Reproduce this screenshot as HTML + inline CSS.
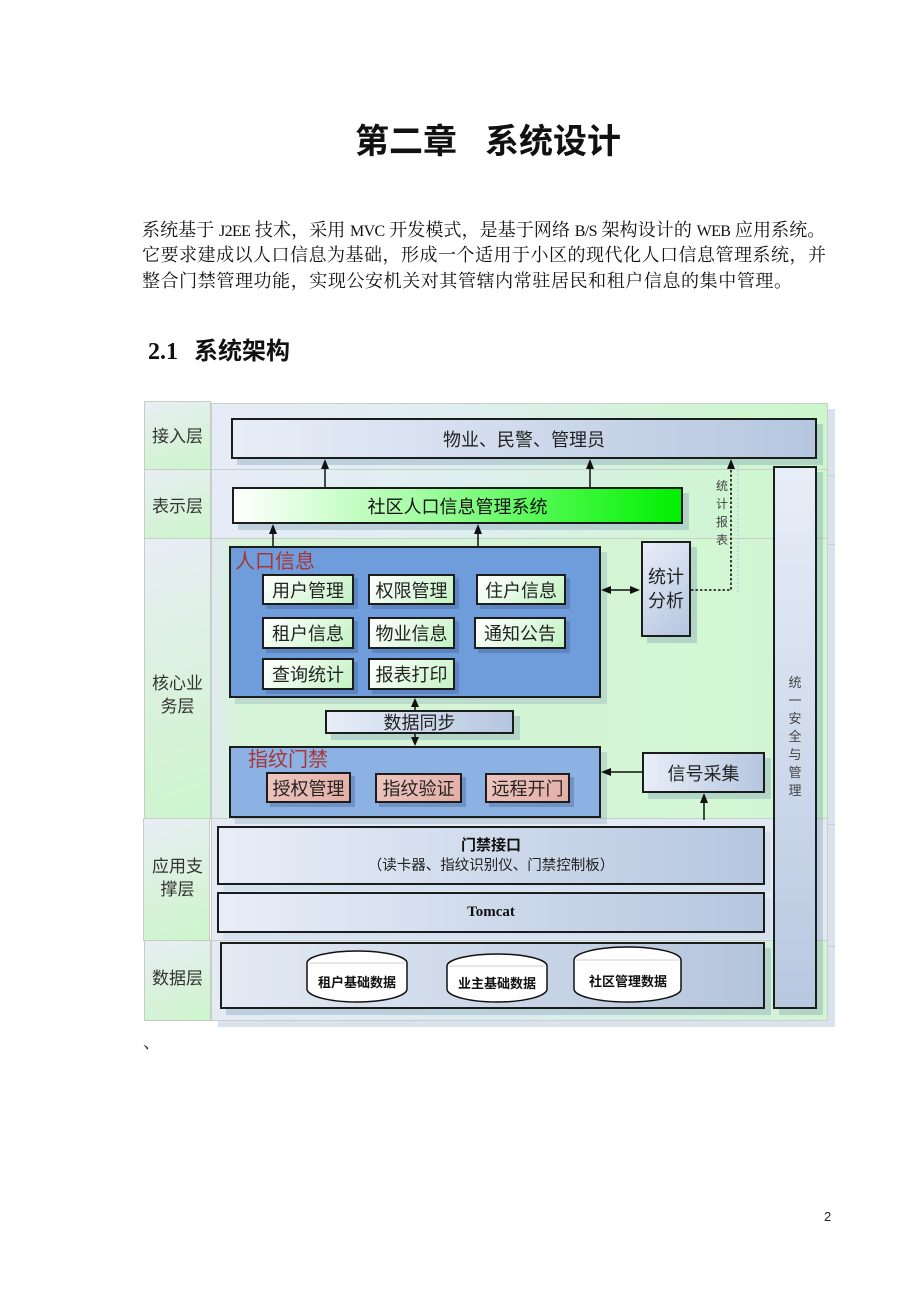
<!DOCTYPE html>
<html><head><meta charset="utf-8">
<style>
html,body{margin:0;padding:0;background:#fff;}
body{width:920px;height:1302px;position:relative;overflow:hidden;font-family:"Liberation Sans","Noto Sans CJK SC",sans-serif;color:#222;}
.a{position:absolute;}
.t{position:absolute;white-space:nowrap;}
.title{font-family:"Liberation Sans","Noto Sans CJK SC",sans-serif;font-weight:700;font-size:34px;line-height:34px;color:#111;}
.para{position:absolute;left:142px;width:684px;font-family:"Liberation Serif","Noto Serif CJK SC",serif;font-size:18px;line-height:24px;height:24px;color:#111;text-align:justify;text-align-last:justify;white-space:nowrap;}
.cell{position:absolute;left:144px;width:67px;box-sizing:border-box;border:1px solid #c5cdc5;background:linear-gradient(160deg,#e8eef6 0%,#dbf1de 50%,#ccf6cc 100%);}
.lab{position:absolute;left:144px;width:67px;text-align:center;font-size:17px;line-height:23px;color:#333;font-family:"Liberation Sans","Noto Sans CJK SC",sans-serif;}
.band{position:absolute;left:211px;width:617px;box-sizing:border-box;border:1px solid #c8cfc8;box-shadow:7px 6px 0 rgba(150,172,205,0.35);}
.box{position:absolute;box-sizing:border-box;border:2px solid #1c1c1c;box-shadow:6px 6px 0 rgba(110,145,170,0.32);display:flex;align-items:center;justify-content:center;font-size:18px;color:#222;font-family:"Liberation Sans","Noto Sans CJK SC",sans-serif;}
.bl{background:linear-gradient(to right,#e8eef8,#b5c6df);}
.gr{background:linear-gradient(135deg,#ffffff 0%,#e6fae6 45%,#c2f2c2 100%);box-shadow:4px 4px 0 rgba(60,90,140,0.35);}
.pk{background:linear-gradient(135deg,#eec6bf,#e2aea6);box-shadow:4px 4px 0 rgba(60,90,140,0.35);}
.lat{font-size:16px;letter-spacing:-0.6px;}
</style></head>
<body>

<!-- Title -->
<div class="t title" style="left:355px;top:125px;">第二章</div>
<div class="t title" style="left:485px;top:125px;">系统设计</div>

<!-- Paragraph -->
<div class="para" style="top:218px;width:683px;letter-spacing:-0.25px;">系统基于 <span class="lat">J2EE</span> 技术，采用 <span class="lat">MVC</span> 开发模式，是基于网络 <span class="lat">B/S</span> 架构设计的 <span class="lat">WEB</span> 应用系统。</div>
<div class="para" style="top:243px;">它要求建成以人口信息为基础，形成一个适用于小区的现代化人口信息管理系统，并</div>
<div class="para" style="top:269px;width:650px;">整合门禁管理功能，实现公安机关对其管辖内常驻居民和租户信息的集中管理。</div>

<!-- Section heading -->
<div class="t" style="left:148px;top:339px;font-family:'Liberation Serif',serif;font-weight:700;font-size:24px;line-height:26px;color:#111;">2.1</div>
<div class="t" style="left:194px;top:339px;font-family:'Liberation Sans','Noto Sans CJK SC',sans-serif;font-weight:700;font-size:24px;line-height:26px;color:#111;">系统架构</div>

<!-- Bands -->
<div class="band" style="top:403px;height:67px;background:linear-gradient(to right,#e6ecf7 0%,#dfeef0 40%,#d2f4d6 75%,#ccf7cc 100%);"></div>
<div class="band" style="top:469px;height:70px;background:linear-gradient(to right,#e6ecf7 0%,#dfeef0 40%,#d2f4d6 75%,#ccf7cc 100%);"></div>
<div class="band" style="top:538px;height:281px;background:linear-gradient(to right,#e0eaf0 0%,#d6f4d8 4%,#d2f6d2 100%);"></div>
<div class="band" style="top:818px;height:123px;background:linear-gradient(to right,#e4ebf5,#e2e9f3);"></div>
<div class="band" style="top:940px;height:81px;background:linear-gradient(to right,#e4ebf5 0%,#dcecef 50%,#d2f4d4 100%);"></div>

<!-- Left label column -->
<div class="cell" style="top:401px;height:69px;"></div>
<div class="cell" style="top:469px;height:70px;"></div>
<div class="cell" style="top:538px;height:281px;"></div>
<div class="cell" style="top:818px;height:123px;left:143px;"></div>
<div class="cell" style="top:940px;height:81px;"></div>
<div class="lab" style="top:425px;">接入层</div>
<div class="lab" style="top:495px;">表示层</div>
<div class="lab" style="top:672px;">核心业<br>务层</div>
<div class="lab" style="top:855px;">应用支<br>撑层</div>
<div class="lab" style="top:967px;">数据层</div>

<!-- Right vertical box -->
<div class="box" style="left:773px;top:466px;width:44px;height:543px;background:linear-gradient(to bottom,#e8eef8,#b8c8e0);"></div>
<div class="t" style="left:786px;top:674px;width:18px;text-align:center;font-size:13px;line-height:18px;color:#444;white-space:normal;">统<br>一<br>安<br>全<br>与<br>管<br>理</div>

<!-- Access layer -->
<div class="box bl" style="left:231px;top:418px;width:586px;height:41px;font-size:18px;">物业、民警、管理员</div>

<!-- Presentation -->
<div class="box" style="left:232px;top:487px;width:451px;height:37px;background:linear-gradient(to right,#ffffff 0%,#a8fca8 40%,#40f840 75%,#00f000 100%);font-size:18px;color:#111;">社区人口信息管理系统</div>
<div class="t" style="left:714px;top:477px;width:16px;text-align:center;font-size:12px;line-height:18px;color:#444;white-space:normal;">统<br>计<br>报<br>表</div>

<!-- 人口信息 -->
<div class="box" style="left:229px;top:546px;width:372px;height:152px;background:#6f9ddb;box-shadow:6px 6px 0 rgba(110,145,170,0.25);"></div>
<div class="t" style="left:235px;top:550px;font-size:20px;line-height:24px;color:#a83535;">人口信息</div>
<div class="box gr" style="left:262px;top:574px;width:92px;height:31px;">用户管理</div>
<div class="box gr" style="left:368px;top:574px;width:87px;height:31px;">权限管理</div>
<div class="box gr" style="left:476px;top:574px;width:90px;height:31px;">住户信息</div>
<div class="box gr" style="left:262px;top:617px;width:92px;height:32px;">租户信息</div>
<div class="box gr" style="left:368px;top:617px;width:87px;height:32px;">物业信息</div>
<div class="box gr" style="left:474px;top:617px;width:92px;height:32px;">通知公告</div>
<div class="box gr" style="left:262px;top:658px;width:92px;height:32px;">查询统计</div>
<div class="box gr" style="left:368px;top:658px;width:87px;height:32px;">报表打印</div>

<!-- 统计分析 -->
<div class="box" style="left:641px;top:541px;width:50px;height:96px;background:linear-gradient(135deg,#e8eef8,#b4c5df);line-height:24px;text-align:center;">统计<br>分析</div>

<!-- 数据同步 -->
<div class="box bl" style="left:325px;top:710px;width:189px;height:24px;">数据同步</div>

<!-- 指纹门禁 -->
<div class="box" style="left:229px;top:746px;width:372px;height:72px;background:#8cb1e3;box-shadow:6px 6px 0 rgba(110,145,170,0.25);"></div>
<div class="t" style="left:248px;top:748px;font-size:20px;line-height:24px;color:#a83535;">指纹门禁</div>
<div class="box pk" style="left:266px;top:772px;width:85px;height:31px;">授权管理</div>
<div class="box pk" style="left:375px;top:773px;width:87px;height:30px;">指纹验证</div>
<div class="box pk" style="left:485px;top:773px;width:85px;height:30px;">远程开门</div>

<!-- 信号采集 -->
<div class="box bl" style="left:642px;top:752px;width:123px;height:41px;">信号采集</div>

<!-- App support -->
<div class="box bl" style="left:217px;top:826px;width:548px;height:59px;flex-direction:column;box-shadow:6px 6px 0 rgba(200,215,235,0.5);">
  <div style="font-weight:700;font-size:15px;line-height:20px;color:#111;">门禁接口</div>
  <div style="font-size:14.5px;line-height:20px;color:#222;">（读卡器、指纹识别仪、门禁控制板）</div>
</div>
<div class="box bl" style="left:217px;top:892px;width:548px;height:41px;font-family:'Liberation Serif',serif;font-weight:700;font-size:15px;color:#111;box-shadow:6px 6px 0 rgba(200,215,235,0.5);">Tomcat</div>

<!-- Data -->
<div class="box" style="left:220px;top:942px;width:545px;height:67px;background:linear-gradient(to right,#e4eaf4,#b4c4dc);"></div>

<!-- SVG overlay: arrows, cylinders -->
<svg class="a" style="left:0;top:0;" width="920" height="1302" viewBox="0 0 920 1302">
  <g stroke="#111" stroke-width="1.5" fill="none">
    <line x1="325" y1="487" x2="325" y2="466"/>
    <line x1="590" y1="487" x2="590" y2="466"/>
    <line x1="273" y1="546" x2="273" y2="531"/>
    <line x1="478" y1="546" x2="478" y2="531"/>
    <line x1="609" y1="590" x2="632" y2="590"/>
    <line x1="415" y1="710" x2="415" y2="705"/>
    <line x1="415" y1="734" x2="415" y2="738"/>
    <line x1="642" y1="772" x2="609" y2="772"/>
    <line x1="704" y1="820" x2="704" y2="801"/>
  </g>
  <polyline points="738,592 738,466" stroke="#c8d4e4" stroke-width="1.5" stroke-dasharray="2,2" fill="none"/>
  <polyline points="691,590 731,590 731,467" stroke="#111" stroke-width="1.6" stroke-dasharray="2.5,2" fill="none"/>
  <g fill="#111">
    <polygon points="325,459 321,469 329,469"/>
    <polygon points="590,459 586,469 594,469"/>
    <polygon points="273,524 269,534 277,534"/>
    <polygon points="478,524 474,534 482,534"/>
    <polygon points="601,590 611,586 611,594"/>
    <polygon points="640,590 630,586 630,594"/>
    <polygon points="731,459 727,469 735,469"/>
    <polygon points="415,698 411,707 419,707"/>
    <polygon points="415,746 411,737 419,737"/>
    <polygon points="601,772 611,768 611,776"/>
    <polygon points="704,793 700,803 708,803"/>
  </g>
  <!-- cylinders -->
  <g stroke="#111" stroke-width="1.5" fill="#fff">
    <path d="M307,963 A50,12 0 0 1 407,963 L407,989 A50,13 0 0 1 307,989 Z"/>
    <path d="M447,966 A50,12 0 0 1 547,966 L547,989 A50,13 0 0 1 447,989 Z"/>
    <path d="M574,960 A53.5,13 0 0 1 681,960 L681,989 A53.5,13 0 0 1 574,989 Z"/>
  </g>
  <g stroke="#cfcfcf" stroke-width="1">
    <line x1="309" y1="963" x2="405" y2="963"/>
    <line x1="449" y1="966" x2="545" y2="966"/>
    <line x1="576" y1="960" x2="679" y2="960"/>
  </g>
  <g font-family="Liberation Sans, Noto Sans CJK SC, sans-serif" font-size="13" font-weight="700" fill="#111" text-anchor="middle">
    <text x="357" y="987">租户基础数据</text>
    <text x="497" y="988">业主基础数据</text>
    <text x="628" y="986">社区管理数据</text>
  </g>
</svg>

<div class="t" style="left:143px;top:1032px;font-size:18px;line-height:20px;color:#333;font-family:'Liberation Serif','Noto Serif CJK SC',serif;">、</div>
<div class="t" style="left:824px;top:1209px;font-size:13px;line-height:16px;color:#222;">2</div>

</body></html>
